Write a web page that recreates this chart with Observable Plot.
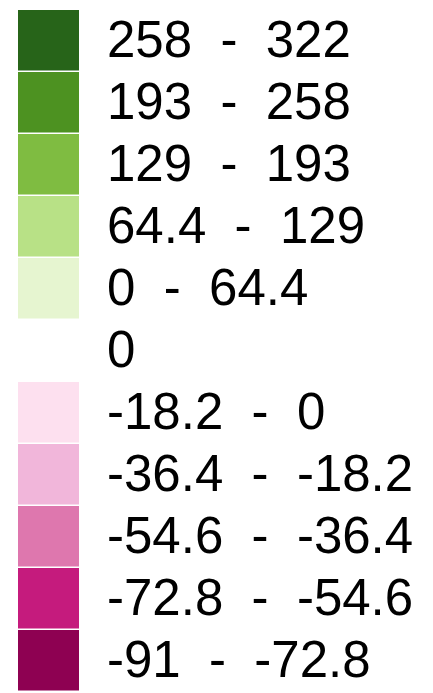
<!DOCTYPE html>
<html>
<head>
<meta charset="utf-8">
<script src="https://cdn.jsdelivr.net/npm/d3@7"></script>
<script src="https://cdn.jsdelivr.net/npm/@observablehq/plot@0.6"></script>
<style>
  html, body { margin: 0; padding: 0; background: #fff; }
  svg text { white-space: pre; }
</style>
</head>
<body>
<div id="chart"></div>
<script>
// Legend classes (top to bottom)
const labels = [
  "258  -  322",
  "193  -  258",
  "129  -  193",
  "64.4  -  129",
  "0  -  64.4",
  "0",
  "-18.2  -  0",
  "-36.4  -  -18.2",
  "-54.6  -  -36.4",
  "-72.8  -  -54.6",
  "-91  -  -72.8"
];
const colors = [
  "#276419", "#4d9221", "#7fbc41", "#b8e186", "#e6f5d0",
  "#ffffff",
  "#fde0ef", "#f1b6da", "#de77ae", "#c51b7d", "#8e0152"
];

const data = labels.map((label, i) => ({label, color: colors[i], key: "swatch"}));

const chart = Plot.plot({
  width: 433,
  height: 693,
  margin: 0,
  style: {fontFamily: "'Liberation Sans', Arial, sans-serif", background: "#fff"},
  x: {type: "band", domain: ["swatch"], range: [18.3, 79.3], padding: 0, axis: null},
  y: {type: "band", domain: labels, range: [6.7, 695.3], padding: 0, axis: null},
  marks: [
    Plot.cell(data, {x: "key", y: "label", fill: "color", insetBottom: 1.5}),
    Plot.text(data, {
      x: "key", y: "label", text: "label",
      textAnchor: "start", dx: 58, dy: -0.5,
      fontSize: 51, fill: "#000"
    })
  ]
});
document.getElementById("chart").appendChild(chart);
</script>
</body>
</html>
